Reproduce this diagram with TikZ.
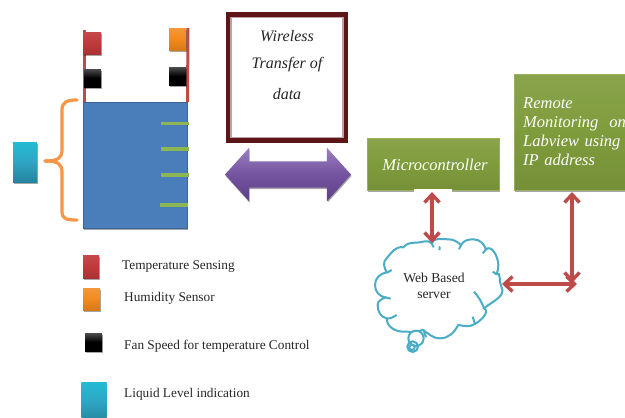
\documentclass[tikz,border=0pt]{standalone}
\usepackage{fontspec}
\setmainfont{Liberation Serif}
\usetikzlibrary{arrows.meta,shadows,shapes.arrows}
\definecolor{tankblue}{HTML}{4A7EBB}
\definecolor{senred}{HTML}{C0393B}
\definecolor{lnred}{HTML}{BE4B48}
\definecolor{senorange}{HTML}{F28A1E}
\definecolor{braceor}{HTML}{F79646}
\definecolor{lvblue}{HTML}{2FA5C4}
\definecolor{tick}{HTML}{8FB655}
\definecolor{boxgreen}{HTML}{7F9C3C}
\definecolor{maroon}{HTML}{5E1518}
\definecolor{cloudline}{HTML}{4BACC6}
\definecolor{purpletop}{HTML}{9A80C0}
\definecolor{purplemid}{HTML}{7453A0}
\definecolor{purplebot}{HTML}{5E4086}
\tikzset{
  softshadow/.style={drop shadow={shadow xshift=0.6pt,shadow yshift=-1.5pt,opacity=.35,fill=black}},
  sensor/.style={inner sep=0pt,outer sep=0pt,rectangle,softshadow},
  redsensor/.style={sensor,top color=senred!92!white,bottom color=senred!88!black,middle color=senred},
  orsensor/.style={sensor,top color=senorange!88!white,bottom color=senorange!88!black,middle color=senorange},
  blacksensor/.style={sensor,top color=black!70,bottom color=black,middle color=black},
  bluesensor/.style={sensor,top color=lvblue!75!cyan,bottom color=lvblue!80!black,middle color=lvblue},
  greenbox/.style={inner sep=0pt,outer sep=0pt,rectangle,softshadow,top color=boxgreen!92!white,bottom color=boxgreen!92!black,middle color=boxgreen,draw=boxgreen!80!white,line width=.8pt},
  scripttext/.style={text=white,font=\itshape\fontsize{16.5}{19.2}\selectfont,align=left},
  wirelesstext/.style={inner sep=0pt,font=\itshape\fontsize{16}{16}\selectfont,text=black!85},
  cloudtext/.style={inner sep=0pt,font=\fontsize{13.6}{13.6}\selectfont,text=black!85},
  legend/.style={anchor=west,inner sep=0pt,font=\fontsize{13.3}{15}\selectfont,text=black!85},
  link/.style={draw=lnred,line width=3.4pt,{Straight Barb[length=8pt,width=15pt,line width=3.4pt]}-{Straight Barb[length=8pt,width=15pt,line width=3.4pt]}},
  leveltick/.style={draw=tick,line width=3.2pt},
  sideline/.style={draw=lnred,line width=3pt},
  cloudedge/.style={draw=cloudline,line width=2pt},
}
\begin{document}
\begin{tikzpicture}[x=1pt,y=-1pt]
\useasboundingbox[fill=white] (0,0) rectangle (625,418);
\clip (0,0) rectangle (625,418);

% tank
\coordinate (lt) at (84,102);
\coordinate (rt) at (187.5,102);
\coordinate (ltop) at (84,30);
\coordinate (rtop) at (188,28);
\draw[sideline] (lt) -- (ltop);
\draw[sideline] (rt) -- (rtop);
\node[inner sep=0pt,outer sep=0pt,minimum width=104pt,minimum height=126pt,fill=tankblue,draw=tankblue!80!black,line width=.8pt,softshadow] (tank) at (135,165) {};

% sensors on the tank
\node[redsensor,minimum width=18pt,minimum height=22pt] (s1) at (92,43) {};
\node[orsensor,minimum width=17pt,minimum height=22pt] (s2) at (177.5,39) {};
\node[blacksensor,minimum width=17pt,minimum height=18pt] (s3) at (92.5,78) {};
\node[blacksensor,minimum width=17pt,minimum height=18pt] (s4) at (177.5,76) {};

% level ticks
\foreach \n/\xa/\xb/\yy in {a/161/189/123.5,b/161/189/149,c/161/189/175,d/160/188/205}{
  \coordinate (t\n l) at (\xa,\yy);
  \coordinate (t\n r) at (\xb,\yy);
  \draw[leveltick] (t\n l) -- (t\n r);
}

% level indicator and brace
\node[bluesensor,minimum width=24pt,minimum height=40pt] (lvl) at (25,162) {};
\coordinate (bt) at (77,100);
\coordinate (bb) at (77,220);
\coordinate (bm) at (45,161);
\draw[draw=braceor,line width=3.2pt,line cap=round] (bt) .. controls (67,100) and (62,102) .. (62,110) -- (62,150) .. controls (62,158) and (58,161) .. (bm);
\draw[draw=braceor,line width=3.2pt,line cap=round] (bm) .. controls (58,161) and (62,164) .. (62,172) -- (62,212) .. controls (62,219) and (67,220) .. (bb);

% wireless box
\node[inner sep=0pt,outer sep=0pt,minimum width=122pt,minimum height=131pt,fill=maroon] (wl) at (287,77.5) {};
\node[inner sep=0pt,outer sep=0pt,minimum width=112pt,minimum height=120pt,fill=white,draw=maroon!40!white,line width=1.4pt] (wli) at (287,77.5) {};
\node[wirelesstext] (w1) at (287,36) {Wireless};
\node[wirelesstext] (w2) at (287,65) {Transfer of};
\node[wirelesstext] (w3) at (287,94) {data};

% purple double arrow
\node[double arrow,inner xsep=0pt,inner ysep=13pt,outer sep=0pt,minimum height=126pt,double arrow head extend=13.5pt,double arrow tip angle=96,
  top color=purpletop,bottom color=purplebot,middle color=purplemid,
  softshadow] (dbl) at (288,174.5) {};

% green boxes
\node[greenbox,minimum width=132pt,minimum height=52pt] (micro) at (433,164) {};
\fill[white] (414,189) rectangle (452,194);
\node[scripttext,inner sep=0pt] (microt) at (435,165) {Microcontroller};
\node[greenbox,minimum width=130pt,minimum height=116pt] (remote) at (579,132) {};
\node[scripttext,anchor=north west,inner sep=0pt,text width=115pt] (remt) at (523,97) {Remote\\Monitoring~ on\\Labview using\\IP address};

% cloud
\begin{scope}[shift={(360,190)},x=.3333pt,y=-.3333pt]
\filldraw[cloudedge,fill=white]
  (215,160) to[out=70,in=180] (265,148) to[out=0,in=140] (303,165)
  to[out=60,in=180] (340,148) to[out=0,in=110] (378,178)
  to[out=40,in=90] (415,225) to[out=-90,in=70] (410,252)
  to[out=30,in=120] (424,290) to[out=-60,in=40] (372,355)
  to[out=-30,in=30] (345,402) to[out=-150,in=-10] (295,405)
  to[out=-120,in=0] (240,445) to[out=180,in=-30] (188,420)
  to[out=-160,in=0] (130,425) to[out=180,in=-90] (80,385)
  to[out=170,in=-90] (53,345) to[out=90,in=-150] (75,322)
  to[out=170,in=-90] (45,285) to[out=90,in=-170] (80,247)
  to[out=120,in=-140] (80,205) to[out=50,in=170] (130,172)
  to[out=50,in=180] (170,158) to[out=0,in=130] (215,160) -- cycle;
\draw[cloudedge] (215,160) -- ++(6,12);
\draw[cloudedge] (238,180) to[out=-80,in=110] (240,170);
\draw[cloudedge] (303,165) to[out=-110,in=60] (297,178);
\draw[cloudedge] (378,178) to[out=-130,in=30] (368,190);
\draw[cloudedge] (410,252) to[out=-150,in=20] (398,245);
\draw[cloudedge] (372,355) to[out=110,in=-50] (342,305);
\draw[cloudedge] (345,402) to[out=120,in=-60] (338,380);
\draw[cloudedge] (188,420) to[out=60,in=-120] (200,440);
\draw[cloudedge] (75,322) to[out=-10,in=170] (92,326);
\draw[cloudedge] (80,247) to[out=-30,in=170] (95,240);
\draw[cloudedge] (80,385) to[out=-10,in=-150] (110,375);
\filldraw[cloudedge,fill=white] (168,445) circle[radius=23];
\draw[cloudedge] (158,470) circle[radius=16];
\draw[cloudedge] (156,472) circle[radius=8];
\end{scope}
\node[cloudtext] (c1) at (434,278) {Web Based};
\node[cloudtext] (c2) at (434,295) {server};

% connectors
\coordinate (mb) at (432,192);
\coordinate (ct) at (432,243);
\coordinate (rb) at (572,192);
\coordinate (jn) at (572,283);
\coordinate (cr) at (502,284);
\coordinate (je) at (577,284);
\draw[link] (mb) -- (ct);
\draw[link] (rb) -- (jn);
\draw[link] (cr) -- (je);

% legend
\node[redsensor,minimum width=16pt,minimum height=23pt] (l1) at (91,266.5) {};
\node[orsensor,minimum width=17pt,minimum height=22pt] (l2) at (91.5,299) {};
\node[blacksensor,minimum width=17pt,minimum height=18pt] (l3) at (93.5,342) {};
\node[bluesensor,minimum width=25pt,minimum height=40pt] (l4) at (94,402) {};
\node[legend] (lt1) at (122,267) {Temperature Sensing};
\node[legend] (lt2) at (124,298) {Humidity Sensor};
\node[legend] (lt3) at (124,346) {Fan Speed for temperature Control};
\node[legend] (lt4) at (124,394) {Liquid Level indication};
\end{tikzpicture}
\end{document}
